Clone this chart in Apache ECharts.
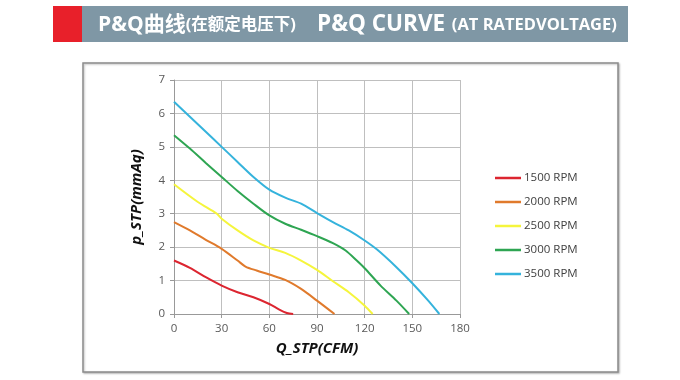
<!DOCTYPE html>
<html>
<head>
<meta charset="utf-8">
<script src="https://cdn.jsdelivr.net/npm/echarts@6/dist/echarts.min.js"></script>
<style>html,body{margin:0;padding:0;background:#fff}#c{width:680px;height:380px}</style>
</head>
<body>
<div id="c"></div>
<script>
const seriesNames = ['1500 RPM','2000 RPM','2500 RPM','3000 RPM','3500 RPM'];
const seriesColors = ['#dc2530','#e07a2c','#f5f53c','#2ea552','#35b3dc'];
const rpm1500 = [[0,1.6],[10,1.38],[20,1.1],[30,0.85],[40,0.65],[50,0.5],[60,0.3],[66,0.14],[71,0.03],[75,0]];
const rpm2000 = [[0,2.75],[10,2.5],[20,2.22],[30,1.95],[40,1.6],[45,1.42],[52,1.3],[60,1.18],[70,1.02],[80,0.75],[90,0.4],[101,0]];
const rpm2500 = [[0,3.88],[15,3.35],[27,3.0],[30,2.85],[40,2.5],[50,2.2],[60,1.98],[70,1.83],[80,1.6],[90,1.32],[100,0.98],[110,0.65],[120,0.25],[125,0]];
const rpm3000 = [[0,5.35],[10,4.95],[20,4.52],[30,4.1],[40,3.68],[50,3.3],[60,2.95],[70,2.7],[80,2.52],[90,2.33],[100,2.12],[108,1.9],[115,1.6],[120,1.37],[130,0.85],[140,0.4],[148,0]];
const rpm3500 = [[0,6.35],[10,5.9],[20,5.45],[30,5.0],[40,4.55],[50,4.1],[60,3.72],[70,3.48],[80,3.3],[90,3.02],[100,2.75],[110,2.5],[120,2.2],[128,1.92],[140,1.4],[150,0.92],[160,0.4],[167,0]];
const allData = [rpm1500, rpm2000, rpm2500, rpm3000, rpm3500];
const xName = 'Q_STP(CFM)';
const yName = 'p_STP(mmAq)';
const titleCn = 'P&Q曲线';
const titleCnSub = '(在额定电压下)';
const titleEn = 'P&Q CURVE';
const titleEnSub = '(AT RATEDVOLTAGE)';

const chart = echarts.init(document.getElementById('c'), null, {renderer:'canvas'});
const labelFont = '"Open Sans", "Noto Sans", sans-serif';
chart.setOption({
  animation: false,
  backgroundColor: '#fff',
  graphic: [
    {type:'rect', shape:{x:53,y:6,width:29,height:36}, style:{fill:'#e8202a'}, z:0},
    {type:'rect', shape:{x:82,y:6,width:546,height:36}, style:{fill:'#7f97a5'}, z:0},
    {type:'text', x:98, y:25, style:{
      text:'{a|'+titleCn+'}{b|'+titleCnSub+'}', fill:'#fff', verticalAlign:'middle',
      rich:{a:{fontSize:21,fontWeight:'bold',fill:'#fff',fontFamily:'"Open Sans","Noto Sans CJK SC",sans-serif'},
            b:{fontSize:16.5,fontWeight:'bold',fill:'#fff',fontFamily:'"Open Sans","Noto Sans CJK SC",sans-serif'}}
    }, z:1},
    {type:'text', x:317, y:25, style:{
      text:'{a|'+titleEn+'}  {b|'+titleEnSub+'}', fill:'#fff', verticalAlign:'middle',
      rich:{a:{fontSize:22.5,fontWeight:'bold',fill:'#fff',fontFamily:'"Open Sans",sans-serif'},
            b:{fontSize:16.5,fontWeight:'bold',fill:'#fff',fontFamily:'"Open Sans",sans-serif'}}
    }, z:1},
    {type:'rect', shape:{x:83,y:63,width:535,height:309}, style:{fill:'#fff',stroke:'#8c8c8c',lineWidth:1.5,shadowBlur:2,shadowColor:'rgba(0,0,0,0.25)',shadowOffsetX:1,shadowOffsetY:1}, z:-1}
  ],
  grid: {left:174, right:220, top:80, bottom:66},
  legend: {
    orient:'vertical', left:490, top:166, itemWidth:26, itemHeight:2.5, itemGap:10, icon:'rect',
    data: seriesNames,
    textStyle:{fontSize:11.5, lineHeight:14, color:'#404040', fontFamily:labelFont, padding:[0,0,0,-2]}
  },
  xAxis: {
    type:'value', min:0, max:180, interval:30,
    name:xName, nameLocation:'middle', nameGap:27,
    nameTextStyle:{fontSize:15,fontWeight:'bold',fontStyle:'italic',color:'#111',fontFamily:labelFont},
    axisLine:{show:true,lineStyle:{color:'#999',width:1}},
    axisTick:{show:true,length:4,lineStyle:{color:'#999'}},
    axisLabel:{fontSize:11.5,color:'#595959',margin:9,fontFamily:labelFont},
    splitLine:{show:true,lineStyle:{color:'#bfbfbf',width:1}}
  },
  yAxis: {
    type:'value', min:0, max:7, interval:1,
    name:yName, nameLocation:'middle', nameGap:30,
    nameTextStyle:{fontSize:15,fontWeight:'bold',fontStyle:'italic',color:'#111',fontFamily:labelFont},
    axisLine:{show:true,lineStyle:{color:'#999',width:1}},
    axisTick:{show:true,length:4,lineStyle:{color:'#999'}},
    axisLabel:{fontSize:11.5,color:'#595959',margin:9,fontFamily:labelFont},
    splitLine:{show:true,lineStyle:{color:'#bfbfbf',width:1}}
  },
  series: seriesNames.map((n,i)=>({
    name:n, type:'line', data:allData[i], smooth:0.3, symbol:'none',
    lineStyle:{width:2, color:seriesColors[i]}, itemStyle:{color:seriesColors[i]}
  }))
});
</script>
</body>
</html>
